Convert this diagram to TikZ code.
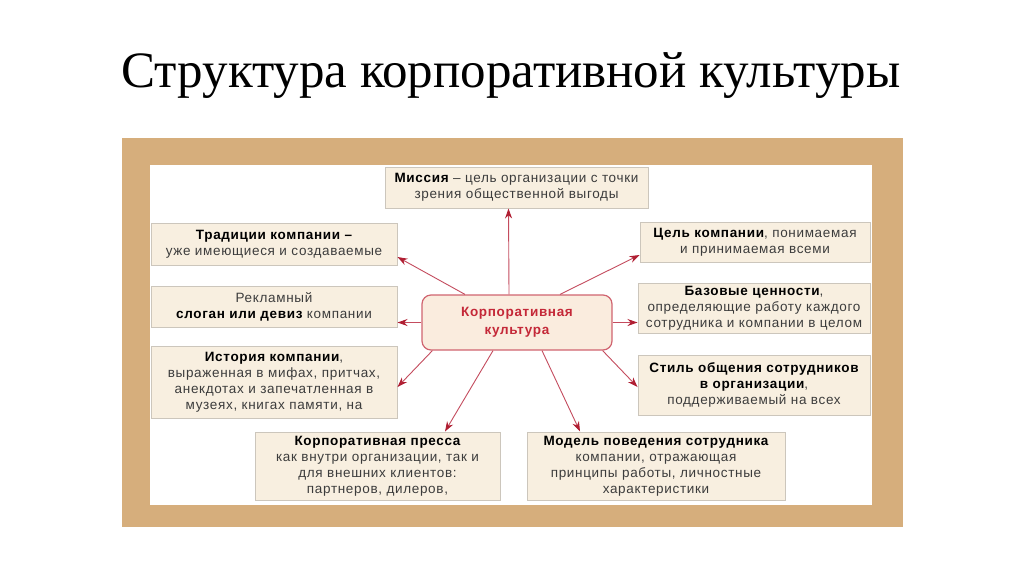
\documentclass[tikz,border=0pt]{standalone}
\usepackage{fontspec}
\setmainfont{Liberation Serif}
\setsansfont{Liberation Sans}
\newfontfamily\boxfont[LetterSpace=5]{Liberation Sans}
\usetikzlibrary{arrows.meta}

\definecolor{frametan}{RGB}{214,174,124}
\definecolor{boxfill}{RGB}{248,239,224}
\definecolor{boxline}{RGB}{204,198,188}
\definecolor{corefill}{RGB}{250,236,222}
\definecolor{coreline}{RGB}{208,100,112}
\definecolor{corered}{RGB}{196,40,56}
\definecolor{arrowred}{RGB}{196,76,94}
\definecolor{tipred}{RGB}{176,30,50}
\definecolor{bodygray}{RGB}{60,60,60}

\tikzset{
  infobox/.style={
    draw=boxline, fill=boxfill, line width=1pt,
    align=center, anchor=center, inner sep=0pt,
    text=bodygray,
    font=\boxfont\fontsize{13.5}{16}\selectfont,
  },
  corebox/.style={
    draw=coreline, fill=corefill, line width=1.2pt, rounded corners=9pt,
    align=center, anchor=center, inner sep=0pt,
    text=corered,
    font=\boxfont\bfseries\fontsize{13.5}{18}\selectfont,
  },
}

\begin{document}
\begin{tikzpicture}[x=1pt,y=-1pt]
  \useasboundingbox (0,0) rectangle (1024,576);
  \fill[white] (0,0) rectangle (1024,576);
  \node[anchor=base,font=\fontsize{51}{60}\selectfont] (title) at (511,87)
    {Структура корпоративной культуры};
  % frame
  \fill[frametan] (122,138) rectangle (903,527);
  \fill[white] (150,165) rectangle (872,505);
  \begin{scope}[every node/.append style={infobox}]
    \node[minimum width=263,minimum height=41] (mission)   at (516.5,187.5)
      {\textcolor{black}{\bfseries Миссия} – цель организации с точки\\зрения общественной выгоды};
    \node[minimum width=246,minimum height=42] (tradition) at (274,244)
      {\textcolor{black}{\bfseries Традиции компании –}\\уже имеющиеся и создаваемые};
    \node[minimum width=230,minimum height=40] (goal)      at (755,242)
      {\textcolor{black}{\bfseries Цель компании}, понимаемая\\и принимаемая всеми};
    \node[minimum width=246,minimum height=41] (slogan)    at (274,306.5)
      {Рекламный\\\textcolor{black}{\bfseries слоган или девиз} компании};
    \node[minimum width=232,minimum height=50] (values)    at (754,308)
      {\textcolor{black}{\bfseries Базовые ценности},\\определяющие работу каждого\\сотрудника и компании в целом};
    \node[minimum width=246,minimum height=72] (history)   at (274,382)
      {\textcolor{black}{\bfseries История компании},\\выраженная в мифах, притчах,\\анекдотах и запечатленная в\\музеях, книгах памяти, на};
    \node[minimum width=232,minimum height=60] (commstyle) at (754,385)
      {\textcolor{black}{\bfseries Стиль общения сотрудников}\\\textcolor{black}{\bfseries в организации},\\поддерживаемый на всех};
    \node[minimum width=245,minimum height=68] (press)     at (377.5,466)
      {\textcolor{black}{\bfseries Корпоративная пресса}\\как внутри организации, так и\\для внешних клиентов:\\партнеров, дилеров,};
    \node[minimum width=258,minimum height=68] (model)     at (656,466)
      {\textcolor{black}{\bfseries Модель поведения сотрудника}\\компании, отражающая\\принципы работы, личностные\\характеристики};
  \end{scope}
  \node[corebox,minimum width=190,minimum height=55] (corp) at (517,322.5)
    {Корпоративная\\культура};
  \begin{scope}[
    >={Stealth[length=10pt,width=7pt,color=tipred]},
    every edge/.style={draw=arrowred,line width=0.9pt},
    ]
    \path[->]
    ([xshift=-8pt]corp.north)        edge ([xshift=-8pt]mission.south)
    ([xshift=-52pt]corp.north)       edge ([yshift=-13pt]tradition.east)
    ([xshift=43pt]corp.north)        edge ([yshift=-13pt]goal.west)
    (corp.west)                      edge (corp.west -| slogan.east)
    (corp.east)                      edge (corp.east -| values.west)
    ([xshift=11pt]corp.south west)   edge ([yshift=-5pt]history.east)
    ([xshift=-10pt]corp.south east)  edge ([yshift=-2pt]commstyle.west)
    ([xshift=-24pt]corp.south)       edge ([xshift=67.5pt]press.north)
    ([xshift=25pt]corp.south)        edge ([xshift=-76pt]model.north);
  \end{scope}
\end{tikzpicture}
\end{document}
